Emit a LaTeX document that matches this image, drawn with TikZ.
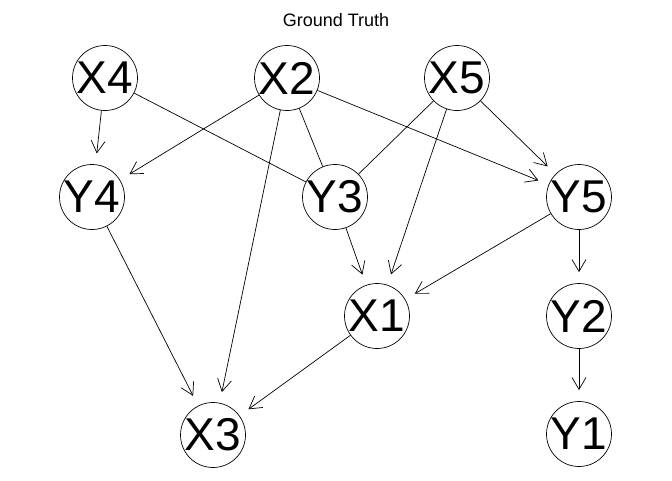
\documentclass[tikz,border=0pt]{standalone}
\usepackage{fontspec}
\setmainfont{Liberation Sans}
\usetikzlibrary{arrows.meta}
\begin{document}
\begin{tikzpicture}[x=1pt,y=-1pt,
  vnode/.style={circle,draw,line width=0.7pt,minimum size=65pt,inner sep=0pt,font=\fontsize{46}{46}\selectfont},
  edge/.style={line width=0.7pt},
  darr/.style={edge,shorten >=11pt,-{Straight Barb[length=12pt,width=14pt,line width=0.7pt]}}]
\useasboundingbox (0,0) rectangle (672,480);
\node[font=\fontsize{18}{18}\selectfont] (title) at (336,20) {Ground Truth};
\node[vnode] (X4) at (105,78) {X4};
\node[vnode] (X2) at (287,78) {X2};
\node[vnode] (X5) at (457,78) {X5};
\node[vnode] (Y4) at (92,197) {Y4};
\node[vnode] (Y3) at (335,197) {Y3};
\node[vnode] (Y5) at (579,197) {Y5};
\node[vnode] (X1) at (377,316) {X1};
\node[vnode] (Y2) at (579,316) {Y2};
\node[vnode] (X3) at (213,435) {X3};
\node[vnode] (Y1) at (579,434) {Y1};
\draw[darr] (X4) -- (Y4);
\draw[edge] (X4) -- (Y3);
\draw[darr] (X2) -- (Y4);
\draw[edge] (X2) -- (Y3);
\draw[darr] (X2) -- (X3);
\draw[darr] (X2) -- (Y5);
\draw[edge] (X5) -- (Y3);
\draw[darr] (X5) -- (X1);
\draw[darr] (X5) -- (Y5);
\draw[darr] (Y3) -- (X1);
\draw[darr] (Y5) -- (X1);
\draw[darr] (Y4) -- (X3);
\draw[darr] (X1) -- (X3);
\draw[darr] (Y5) -- (Y2);
\draw[darr] (Y2) -- (Y1);
\end{tikzpicture}
\end{document}
